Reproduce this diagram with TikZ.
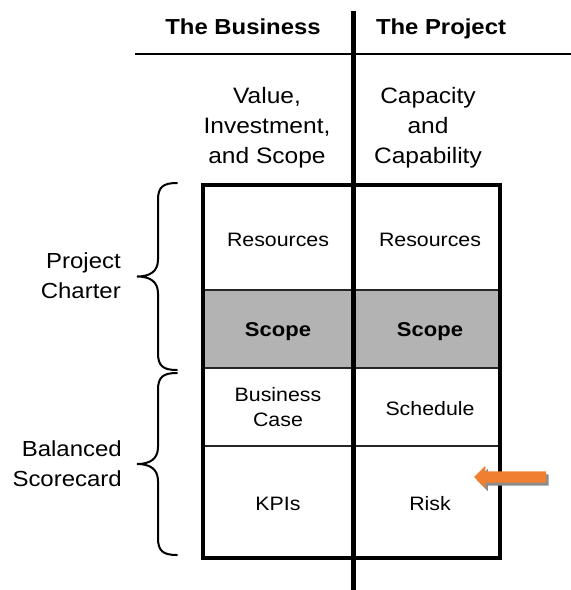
\documentclass[tikz,border=0pt]{standalone}
\usepackage{fontspec}
\setmainfont{Liberation Sans}[FakeStretch=1.1]
\usetikzlibrary{shapes.arrows,shadows,positioning}
\definecolor{scopegray}{RGB}{179,179,179}
\definecolor{riskorange}{RGB}{240,128,48}

\begin{document}
\begin{tikzpicture}[x=1pt, y=-1pt]
    \tikzset{colhead/.style={font=\fontsize{21.7}{26}\selectfont\bfseries, inner sep=0pt, anchor=base},
      colsub/.style={font=\fontsize{22.3}{30}\selectfont, align=center, inner sep=0pt},
      cell/.style={font=\fontsize{19.4}{25}\selectfont, align=center, inner sep=0pt},
      scopecell/.style={cell, font=\fontsize{20}{25}\selectfont\bfseries, anchor=base},
      grouplabel/.style={font=\fontsize{21.8}{30}\selectfont, align=right, inner sep=0pt, anchor=east},
      brace/.style={line width=2pt, line cap=round},
      rowline/.style={line width=1.5pt, black!85}}
    \useasboundingbox (0,0) rectangle (571,590);
    % the table
    \fill[scopegray] (203,290) rectangle (500,368);
    \foreach \y in {290,368,446}
      \draw[rowline] (203,\y) -- (500,\y);
    \draw[line width=4pt] (203,185) rectangle (500,558);
    \draw[line width=2.5pt] (135,54) -- (571,54);
    \draw[line width=5pt] (353,11) -- (353,590);
    % headings
    \node[colhead] (bizhead) at (243,34) {The Business};
    \node[colhead] (projhead) at (441,34) {The Project};
    \node[colsub] (bizsub) at (267,128) {Value,\\Investment,\\and Scope};
    \node[colsub] (projsub) at (428,128) {Capacity\\and\\Capability};
    % cells
    \node[cell, anchor=base] (bizres) at (278,246) {Resources};
    \node[cell, anchor=base] (projres) at (430,246) {Resources};
    \node[scopecell] (bizscope) at (278,336) {Scope};
    \node[scopecell] (projscope) at (430,336) {Scope};
    \node[cell] (bizcase) at (278,407.5) {Business\\Case};
    \node[cell, anchor=base] (projsched) at (430,415) {Schedule};
    \node[cell, anchor=base] (bizkpi) at (278,510) {KPIs};
    \node[cell, anchor=base] (projrisk) at (430,510) {Risk};
    % braces and their labels
    \foreach \ya/\yb in {183/370, 373/555} {
      \pgfmathsetmacro\ym{(\ya+\yb)/2}
      \draw[brace] (177,\ya) .. controls (163,\ya) and (158,\ya+4) .. (158,\ya+17)
        -- (158,\ym-17) .. controls (158,\ym-5) and (150,\ym) .. (137,\ym)
        .. controls (150,\ym) and (158,\ym+5) .. (158,\ym+17)
        -- (158,\yb-17) .. controls (158,\yb-4) and (163,\yb) .. (177,\yb);
    }
    \node[grouplabel] (charter) at (121,276) {Project\\Charter};
    \node[grouplabel] (scorecard) at (122,463.5) {Balanced\\Scorecard};
    % pointer at the risk row
    \node[single arrow, fill=riskorange, shape border rotate=180, minimum height=72pt,
      minimum width=22pt, inner sep=5.5pt, single arrow head extend=5.5pt,
      drop shadow={shadow xshift=2.5pt, shadow yshift=-3pt, fill=black!45, fill opacity=1}]
      (riskarrow) at (513,477) {};
\end{tikzpicture}
\end{document}
